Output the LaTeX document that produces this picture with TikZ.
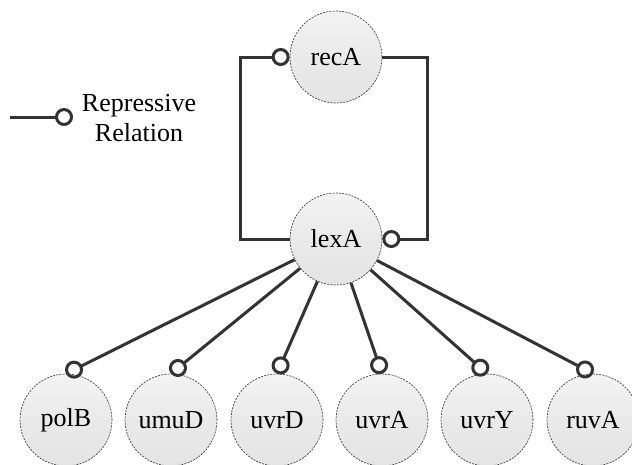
\documentclass[tikz,border=0pt]{standalone}
\usepackage{fontspec}
\setmainfont{Liberation Serif}
\newfontfamily\labelfont{Liberation Serif}
\usetikzlibrary{arrows.meta}

\definecolor{edgegray}{HTML}{333333}
\definecolor{ringgray}{HTML}{444444}
\definecolor{genefill}{HTML}{E4E4E4}

\tikzset{
  gene/.style={circle, minimum size=92pt, inner sep=0pt,
    draw=ringgray, line width=0.7pt, dash pattern=on 2pt off 1.2pt,
    top color=genefill!45, bottom color=genefill, middle color=genefill!80,
    font=\labelfont\fontsize{26}{30}\selectfont, text=black},
  rep/.style={draw=edgegray, line width=3pt,
    -{Circle[open, length=18pt, line width=3pt]}},
}

\begin{document}
\begin{tikzpicture}[x=1pt, y=-1pt]
  \useasboundingbox (0,0) rectangle (632,464);
  \clip (0,0) rectangle (632,464);

  % regulator pair
  \node[gene] (recA) at (336,57) {recA};
  \node[gene] (lexA) at (336,239) {lexA};

  % target genes
  \node[gene] (polB) at (66,420)  {polB};
  \node[gene] (umuD) at (171,420) {umuD};
  \node[gene] (uvrD) at (277,420) {uvrD};
  \node[gene] (uvrA) at (382,420) {uvrA};
  \node[gene] (uvrY) at (487,420) {uvrY};
  \node[gene] (ruvA) at (593,420) {ruvA};

  % mutual repression loop between lexA and recA
  \draw[rep] (lexA.west) -- ++(-49pt,0) |- (recA.west);
  \draw[rep] (recA.east) -- ++(45pt,0) |- (lexA.east);

  % lexA represses the target genes
  \foreach \g in {polB,umuD,uvrD,uvrA,uvrY,ruvA}
    \draw[rep] (lexA) -- (\g.north);

  % legend
  \coordinate (legA) at (10,117);
  \coordinate (legB) at (73,117);
  \draw[rep] (legA) -- (legB);
  \node[align=center, font=\labelfont\fontsize{26}{30}\selectfont] (legtext) at (139,118)
    {Repressive\\Relation};
\end{tikzpicture}
\end{document}
